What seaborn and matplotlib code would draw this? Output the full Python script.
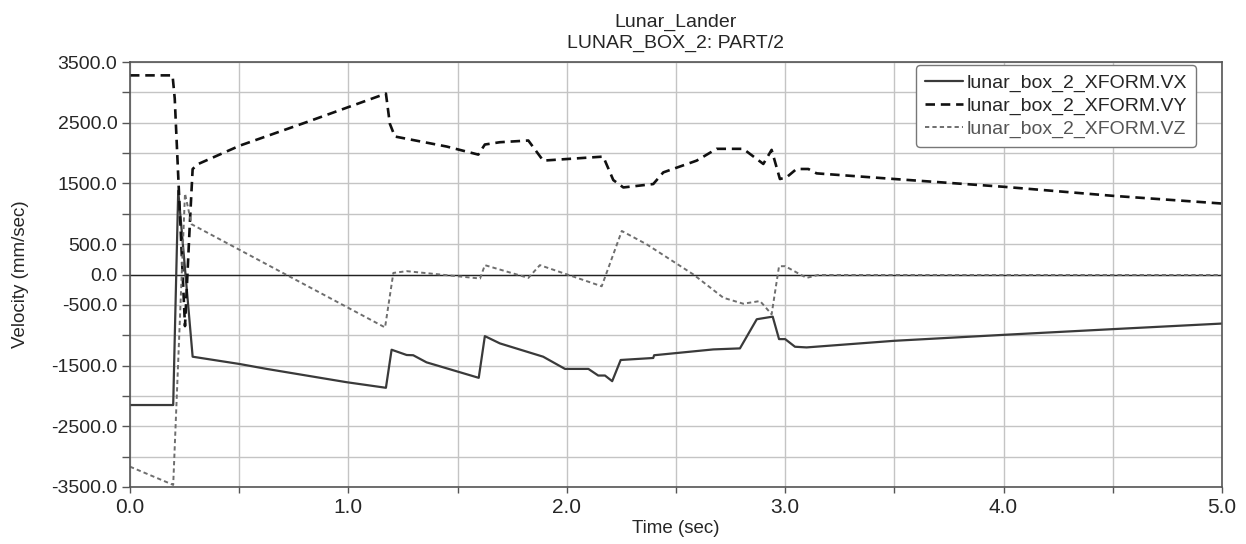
import numpy as np
import pandas as pd
import matplotlib
matplotlib.use("Agg")
import matplotlib.pyplot as plt
import seaborn as sns
from matplotlib.ticker import MultipleLocator, FuncFormatter

# velocity traces (time in sec, velocity in mm/sec)
vx_t = [0.0, 0.198, 0.206, 0.221, 0.287, 0.5, 0.626, 0.992, 1.172, 1.198,
        1.267, 1.297, 1.358, 1.597, 1.625, 1.694, 1.892, 1.992, 2.099, 2.144,
        2.175, 2.208, 2.247, 2.396, 2.40, 2.671, 2.793, 2.87, 2.943, 2.972,
        3.0, 3.045, 3.098, 3.5, 4.0, 4.5, 5.0]
vx_v = [-2150, -2150, -900, 1380, -1354, -1473, -1555, -1774, -1866, -1239,
        -1326, -1330, -1447, -1702, -1015, -1135, -1354, -1555, -1555, -1664,
        -1664, -1757, -1408, -1375, -1330, -1234, -1217, -737, -694, -1064,
        -1064, -1190, -1201, -1092, -994, -900, -808]

vy_t = [0.0, 0.195, 0.205, 0.252, 0.275, 0.287, 0.313, 0.504, 0.809, 1.172,
        1.19, 1.213, 1.45, 1.595, 1.625, 1.694, 1.824, 1.892, 2.167, 2.213,
        2.259, 2.396, 2.442, 2.595, 2.686, 2.808, 2.9, 2.938, 2.976, 3.006,
        3.052, 3.106, 3.144, 3.5, 4.0, 4.5, 5.0]
vy_v = [3280, 3280, 2900, -850, 900, 1738, 1821, 2124, 2510, 2980,
        2483, 2273, 2108, 1975, 2141, 2179, 2207, 1876, 1942, 1556,
        1434, 1490, 1682, 1876, 2070, 2070, 1821, 2053, 1573, 1600,
        1738, 1738, 1666, 1573, 1445, 1296, 1169]

vz_t = [0.0, 0.198, 0.252, 0.282, 1.168, 1.206, 1.267, 1.603, 1.625, 1.824,
        1.877, 2.16, 2.252, 2.366, 2.58, 2.717, 2.808, 2.885, 2.938, 2.972,
        3.0, 3.098, 3.15, 5.0]
vz_v = [-3165, -3465, 1334, 828, -872, 26, 55, -66, 154, -56,
        154, -194, 717, 497, 0, -383, -481, -437, -655, 136,
        137, -56, -8, -8]

names = ["lunar_box_2_XFORM.VX", "lunar_box_2_XFORM.VY", "lunar_box_2_XFORM.VZ"]

sns.set_theme(style="whitegrid")
plt.rcParams['font.family'] = ['Liberation Sans', 'DejaVu Sans']

fig = plt.figure(figsize=(12.46, 5.44), dpi=100)
ax = fig.add_axes([0.1043, 0.1048, 0.8764, 0.7812])
ax.set_facecolor("white")

sns.lineplot(x=vx_t, y=vx_v, ax=ax, color="#3a3a3a", lw=1.6, label=names[0],
             estimator=None, sort=False)
sns.lineplot(x=vy_t, y=vy_v, ax=ax, color="#111111", lw=1.9, label=names[1],
             estimator=None, sort=False, linestyle=(0, (3.6, 2.2)))
sns.lineplot(x=vz_t, y=vz_v, ax=ax, color="#6e6e6e", lw=1.4, label=names[2],
             estimator=None, sort=False, linestyle=(0, (2.2, 1.6)))

ax.axhline(0, color="#222222", lw=1.0, zorder=1)

ax.set_xlim(0, 5)
ax.set_ylim(-3500, 3500)
ax.xaxis.set_major_locator(MultipleLocator(0.5))
ax.yaxis.set_major_locator(MultipleLocator(500))
ax.xaxis.set_major_formatter(FuncFormatter(
    lambda v, p: f"{v:.1f}" if abs(v - round(v)) < 1e-6 else ""))
ylab = {3500, 2500, 1500, 500, 0, -500, -1500, -2500, -3500}
ax.yaxis.set_major_formatter(FuncFormatter(
    lambda v, p: f"{v:.1f}" if int(round(v)) in ylab else ""))

ax.grid(True, color="#c4c4c4", lw=1.0)
for s in ax.spines.values():
    s.set_color("#555555")
    s.set_linewidth(1.2)
ax.tick_params(axis="y", which="major", length=6, width=1, color="#555555",
               labelsize=14, pad=3, direction="out", left=True)
ax.tick_params(axis="x", which="major", length=4, width=1, color="#555555",
               labelsize=15, pad=4, direction="out", bottom=True)

ax.set_xlabel("Time (sec)", fontsize=13.5, labelpad=2)
ax.set_ylabel("Velocity (mm/sec)", fontsize=13.5, labelpad=16)
ax.set_title("Lunar_Lander\nLUNAR_BOX_2: PART/2", fontsize=14, pad=10,
             linespacing=1.3)

leg = ax.legend(loc="upper right", bbox_to_anchor=(0.976, 0.992), fontsize=14,
                frameon=True, fancybox=True, edgecolor="#777777",
                handlelength=1.95, handletextpad=0.2, borderpad=0.45,
                labelspacing=0.28, borderaxespad=0, framealpha=1)
leg.get_frame().set_linewidth(1.0)
leg.get_texts()[2].set_color("#555555")

fig.savefig("out.png", dpi=100)
